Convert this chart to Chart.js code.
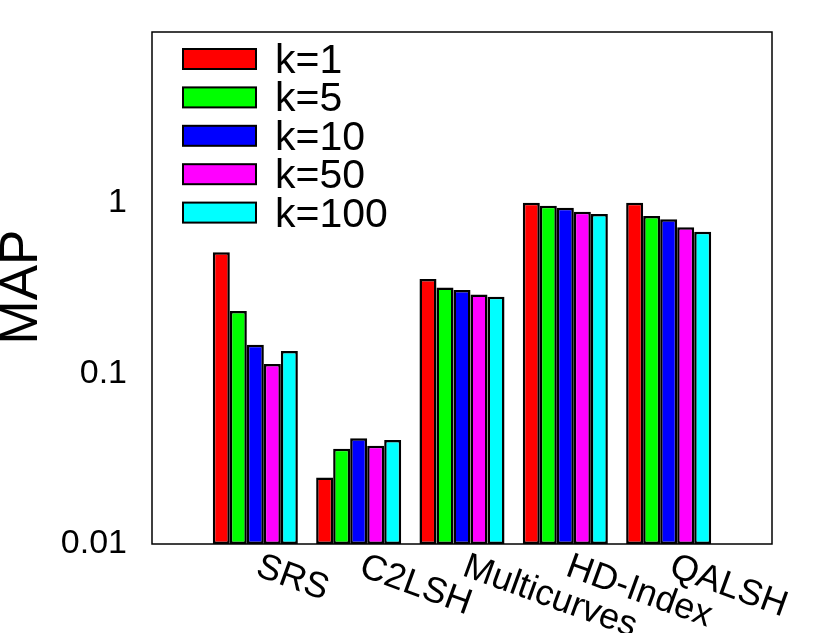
<!DOCTYPE html>
<html>
<head>
<meta charset="utf-8">
<script src="https://cdn.jsdelivr.net/npm/chart.js@4.4.1/dist/chart.umd.min.js"></script>
<style>
    html, body { margin: 0; padding: 0; background: #fff; }
    #wrap { width: 822px; height: 633px; position: relative; }
</style>
</head>
<body>
<div id="wrap"><canvas id="chart"></canvas></div>
<script>
    const categories = ['SRS', 'C2LSH', 'Multicurves', 'HD-Index', 'QALSH'];
    const seriesLabels = ['k=1', 'k=5', 'k=10', 'k=50', 'k=100'];
    const k1 = [0.512, 0.0245, 0.357, 1.0, 1.0];
    const k5 = [0.232, 0.0362, 0.318, 0.960, 0.836];
    const k10 = [0.147, 0.0416, 0.308, 0.935, 0.799];
    const k50 = [0.1135, 0.0377, 0.290, 0.886, 0.718];
    const k100 = [0.135, 0.0407, 0.281, 0.859, 0.676];
    const yTicks = [0.01, 0.1, 1];
    const yTitle = 'MAP';

    const COLORS = ['#ff0000', '#00ff00', '#0000ff', '#ff00ff', '#00ffff'];
    const FONT = '"Liberation Sans", Arial, Helvetica, sans-serif';

    const series = [k1, k5, k10, k50, k100];
    const datasets = series.map((vals, i) => ({
        label: seriesLabels[i],
        data: vals.map((v, j) => ({ x: j + 1, y: v })),
        backgroundColor: COLORS[i],
        borderColor: '#000',
        borderWidth: 2.5,
        borderSkipped: false,
        barPercentage: 1,
        categoryPercentage: 0.823
    }));

    // frame, rotated category labels, y title and in-plot legend
    const decor = {
        id: 'decor',
        afterDraw(chart) {
            const ctx = chart.ctx;
            const a = chart.chartArea;
            const xs = chart.scales.x;
            ctx.save();
            ctx.strokeStyle = '#000';
            ctx.lineWidth = 1.5;
            ctx.strokeRect(a.left, a.top, a.right - a.left, a.bottom - a.top);

            ctx.fillStyle = '#000';
            ctx.font = '36px ' + FONT;
            ctx.textAlign = 'left';
            ctx.textBaseline = 'alphabetic';
            categories.forEach((c, i) => {
                const px = xs.getPixelForValue(i + 1);
                ctx.save();
                ctx.translate(px - 1, a.bottom + 31);
                ctx.rotate(20 * Math.PI / 180);
                ctx.fillText(c, 0, 0);
                ctx.restore();
            });

            ctx.save();
            ctx.font = '53px ' + FONT;
            ctx.textAlign = 'center';
            ctx.textBaseline = 'middle';
            ctx.translate(22, 287);
            ctx.rotate(-Math.PI / 2);
            ctx.fillText(yTitle, 0, 0);
            ctx.restore();

            ctx.font = '41px ' + FONT;
            ctx.textAlign = 'left';
            ctx.textBaseline = 'alphabetic';
            seriesLabels.forEach((lab, i) => {
                const top = 49 + i * 38.4;
                ctx.fillStyle = COLORS[i];
                ctx.fillRect(183, top, 73, 20);
                ctx.strokeStyle = '#000';
                ctx.lineWidth = 2;
                ctx.strokeRect(183, top, 73, 20);
                ctx.fillStyle = '#000';
                ctx.fillText(lab, 275, top + 24);
            });
            ctx.restore();
        }
    };

    new Chart(document.getElementById('chart'), {
        type: 'bar',
        data: { datasets },
        options: {
            responsive: true,
            maintainAspectRatio: false,
            animation: false,
            layout: { padding: { left: 0, top: 32, right: 50, bottom: 89 } },
            plugins: { legend: { display: false }, tooltip: { enabled: false } },
            scales: {
                x: {
                    type: 'linear',
                    min: 0,
                    max: 6,
                    offset: false,
                    grid: { display: false, drawTicks: false },
                    border: { display: false },
                    ticks: { display: false }
                },
                y: {
                    type: 'logarithmic',
                    min: 0.01,
                    max: 10,
                    grid: { display: false, drawTicks: false },
                    border: { display: false },
                    afterBuildTicks(scale) {
                        scale.ticks = yTicks.map(v => ({ value: v }));
                    },
                    afterFit(scale) {
                        scale.width = 152;
                        scale.paddingTop = 0;
                        scale.paddingBottom = 0;
                    },
                    ticks: {
                        color: '#000',
                        padding: 25,
                        font: { family: FONT, size: 34 },
                        callback: v => String(v)
                    }
                }
            }
        },
        plugins: [decor]
    });
</script>
</body>
</html>
